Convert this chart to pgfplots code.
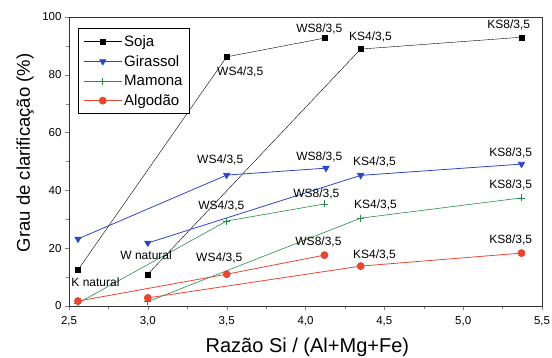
\documentclass[border=0pt]{standalone}
\usepackage{fontspec}
\setmainfont{Liberation Sans}
\usepackage{pgfplots}
\pgfplotsset{compat=1.18}
\definecolor{cblue}{RGB}{45,70,200}
\definecolor{cgreen}{RGB}{40,140,70}
\definecolor{cred}{RGB}{230,70,50}
\begin{document}
\begin{tikzpicture}[x=1pt,y=1pt]
\begin{axis}[
  name=ax,
  scale only axis,
  width=473pt, height=289pt,
  xmin=2.5, xmax=5.5, ymin=0, ymax=100,
  xtick={2.5,3,...,5.5}, ytick={0,20,...,100},
  minor x tick num=1, minor y tick num=1,
  tick align=outside,
  major tick length=4pt, minor tick length=3pt,
  xtick pos=bottom, ytick pos=left,
  /pgf/number format/assume math mode=true,
  xticklabel style={/pgf/number format/.cd, fixed, fixed zerofill, precision=1, use comma, /tikz/.cd, yshift=-3pt},
  yticklabel style={/pgf/number format/.cd, fixed, precision=0},
  ticklabel style={font=\fontsize{11.5}{13}\selectfont},
  xlabel={Razão Si / (Al+Mg+Fe)},
  ylabel={Grau de clarificação (\%)},
  every axis x label/.style={at={(axis description cs:0.504,-0.142)}, anchor=center, font=\fontsize{20}{24}\selectfont},
  every axis y label/.style={at={(axis description cs:-0.093,0.53)}, anchor=center, rotate=90, font=\fontsize{18.5}{22}\selectfont},
  axis line style={thick, black!80},
  legend style={at={(0.019,0.962)}, anchor=north west, draw=black, thick,
    font=\fontsize{15}{17}\selectfont, row sep=3.5pt, inner xsep=5pt, inner ysep=5pt},
  legend image code/.code={\draw[mark repeat=2,mark phase=2] plot coordinates {(0pt,0pt)(19pt,0pt)(38pt,0pt)};},
  legend cell align=left,
  clip=false,
]
% Soja
\addplot[black, mark=square*, mark size=2.5pt] coordinates {(2.557,12.5) (3.5,86.2) (4.12,92.7)};
\addlegendentry{Soja}
\addplot[black, mark=square*, mark size=2.5pt, forget plot] coordinates {(3.0,11) (4.35,88.9) (5.37,93)};
% Girassol
\addplot[cblue, thick, mark=triangle*, mark options={rotate=180}, mark size=3.5pt] coordinates {(2.557,23.2) (3.5,45.3) (4.13,47.7)};
\addlegendentry{Girassol}
\addplot[cblue, thick, mark=triangle*, mark options={rotate=180}, mark size=3.5pt, forget plot] coordinates {(3.0,21.8) (4.35,45.2) (5.37,49.1)};
% Mamona
\addplot[cgreen, semithick, mark=+, mark size=3.5pt, mark options={thick}] coordinates {(2.557,1) (3.5,29.4) (4.12,35.3)};
\addlegendentry{Mamona}
\addplot[cgreen, semithick, mark=+, mark size=3.5pt, mark options={thick}, forget plot] coordinates {(3.0,1.5) (4.35,30.4) (5.37,37.4)};
% Algodao
\addplot[cred, thick, mark=*, mark size=3.5pt] coordinates {(2.557,1.7) (3.5,11) (4.12,17.6)};
\addlegendentry{Algodão}
\addplot[cred, thick, mark=*, mark size=3.5pt, forget plot] coordinates {(3.0,2.8) (4.35,13.8) (5.37,18.3)};
% labels
\begin{scope}[every node/.style={font=\fontsize{12}{14}\selectfont, inner sep=0pt}]
\node at (axis cs:2.668,8.3) {K natural};
\node at (axis cs:2.989,17.6) {W natural};
\node at (axis cs:3.586,81.0) {WS4/3,5};
\node at (axis cs:3.459,50.5) {WS4/3,5};
\node at (axis cs:3.466,34.6) {WS4/3,5};
\node at (axis cs:3.453,16.6) {WS4/3,5};
\node at (axis cs:4.088,95.8) {WS8/3,5};
\node at (axis cs:4.088,51.6) {WS8/3,5};
\node at (axis cs:4.069,38.8) {WS8/3,5};
\node at (axis cs:4.082,22.1) {WS8/3,5};
\node at (axis cs:4.412,93.1) {KS4/3,5};
\node at (axis cs:4.438,49.8) {KS4/3,5};
\node at (axis cs:4.444,34.9) {KS4/3,5};
\node at (axis cs:4.438,17.6) {KS4/3,5};
\node at (axis cs:5.289,97.2) {KS8/3,5};
\node at (axis cs:5.302,52.9) {KS8/3,5};
\node at (axis cs:5.302,41.9) {KS8/3,5};
\node at (axis cs:5.302,22.8) {KS8/3,5};
\end{scope}
\end{axis}
\pgfresetboundingbox
\path ([shift={(-69pt,-52pt)}]ax.south west) rectangle ([shift={(10pt,17pt)}]ax.north east);
\end{tikzpicture}
\end{document}
